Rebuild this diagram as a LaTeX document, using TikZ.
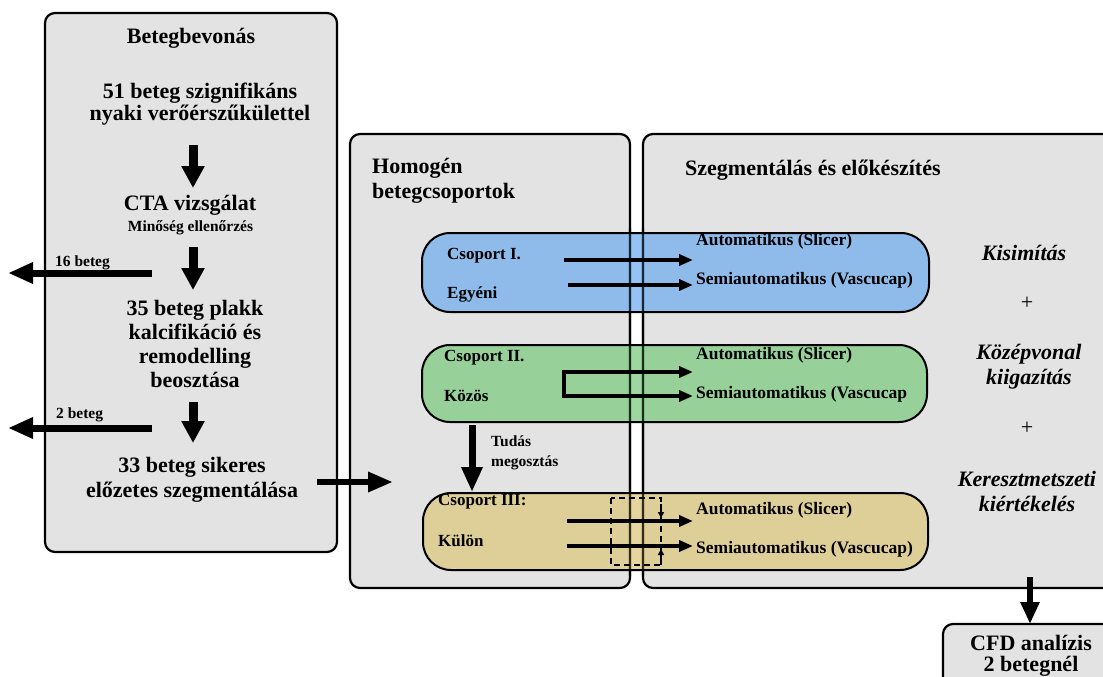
\documentclass[tikz,border=0pt]{standalone}
\usepackage{fontspec}
\setmainfont{Liberation Serif}
\usetikzlibrary{arrows.meta}
\definecolor{panelgray}{RGB}{227,227,227}
\definecolor{bandblue}{RGB}{115,174,239}
\definecolor{bandgreen}{RGB}{127,202,130}
\definecolor{bandtan}{RGB}{221,199,127}
\begin{document}
\begin{tikzpicture}[x=1pt,y=-1pt,
  panel/.style={draw=black, line width=2.2pt, fill=panelgray, rounded corners=10pt, inner sep=0pt, outer sep=0pt},
  band/.style={draw=black, line width=2pt, rounded corners=28pt, fill opacity=0.75, inner sep=0pt, outer sep=0pt},
  bigtxt/.style={font=\bfseries\fontsize{22}{24.5}\selectfont, align=center, inner sep=0pt},
  midtxt/.style={font=\bfseries\fontsize{17}{20}\selectfont, align=left, inner sep=0pt, anchor=west},
  methtxt/.style={font=\bfseries\fontsize{17.5}{20}\selectfont, align=left, inner sep=0pt, anchor=west},
  smalltxt/.style={font=\bfseries\fontsize{15.5}{20}\selectfont, align=left, inner sep=0pt},
  ittxt/.style={font=\bfseries\itshape\fontsize{22}{25}\selectfont, align=center, inner sep=0pt},
  vbig/.style={line width=9pt, -{Triangle[length=22pt,width=22pt]}},
  hbig/.style={line width=7pt, -{Triangle[length=25pt,width=20pt]}},
  bandarr/.style={line width=3.8pt, -{Triangle[length=14pt,width=11pt]}},
  smallarr/.style={line width=1.5pt, -{Triangle[length=6pt,width=6pt]}}
]
\path[use as bounding box, clip] (0,0) rectangle (1103,677);

% panels
\node[panel, minimum width=292pt, minimum height=539pt] (leftp) at (191,282.5) {};
\node[panel, minimum width=280pt, minimum height=454pt] (midp) at (490,361) {};
\node[panel, minimum width=477pt, minimum height=454pt] (rightp) at (881.5,361) {};
\node[panel, minimum width=177pt, minimum height=76pt] (cfdbox) at (1031.5,662) {};

% bands
\node[band, fill=bandblue, minimum width=507pt, minimum height=79pt] (bandI) at (675.5,272.5) {};
\node[band, fill=bandgreen, minimum width=505pt, minimum height=77pt] (bandII) at (674.5,383.5) {};
\node[band, fill=bandtan, minimum width=505pt, minimum height=77pt] (bandIII) at (675.5,531.5) {};

% panel borders seen through the bands
\begin{scope}
\clip (400,228) rectangle (950,575);
\draw[line width=2.2pt, draw opacity=0.7, rounded corners=10pt] (midp.north west) rectangle (midp.south east);
\draw[line width=2.2pt, draw opacity=0.7, rounded corners=10pt] (rightp.north west) rectangle (rightp.south east);
\end{scope}

% left panel texts
\node[bigtxt] (head) at (191,38) {Betegbevonás};
\node[bigtxt, font=\bfseries\fontsize{22}{22}\selectfont] (t51) at (200,104) {51 beteg szignifikáns\\nyaki verőérszűkülettel};
\node[bigtxt] (cta) at (190,205) {CTA vizsgálat};
\node[smalltxt, align=center] (qc) at (190.5,228) {Minőség ellenőrzés};
\node[bigtxt, font=\bfseries\fontsize{22}{24.3}\selectfont] (t35) at (195,344) {35 beteg plakk\\kalcifikáció és\\remodelling\\beosztása};
\node[bigtxt, font=\bfseries\fontsize{22}{25}\selectfont] (t33) at (192,479.5) {33 beteg sikeres\\előzetes szegmentálása};
\node[smalltxt, anchor=west] (l16) at (55,263) {16 beteg};
\node[smalltxt, anchor=west] (l2) at (56,415) {2 beteg};

% left arrows
\coordinate (a1s) at (193,145); \coordinate (a1e) at (193,188);
\coordinate (a2s) at (193,247); \coordinate (a2e) at (193,290);
\coordinate (a3s) at (193,402); \coordinate (a3e) at (193,443);
\draw[vbig] (a1s) -- (a1e);
\draw[vbig] (a2s) -- (a2e);
\draw[vbig] (a3s) -- (a3e);
\coordinate (x16s) at (152,273); \coordinate (x16e) at (8,273);
\coordinate (x2s) at (152,428); \coordinate (x2e) at (8,428);
\draw[hbig] (x16s) -- (x16e);
\draw[hbig] (x2s) -- (x2e);
\coordinate (toMs) at (317,482); \coordinate (toMe) at (393,482);
\draw[line width=6.5pt, -{Triangle[length=25pt,width=19pt]}] (toMs) -- (toMe);

% middle panel
\node[bigtxt, align=left, anchor=west, font=\bfseries\fontsize{22}{25}\selectfont] (hom) at (372,180.5) {Homogén\\betegcsoportok};
\node[midtxt] (cI) at (447,256) {Csoport I.};
\node[midtxt] (egy) at (447,294) {Egyéni};
\node[midtxt] (cII) at (444,358) {Csoport II.};
\node[midtxt] (koz) at (444,396) {Közös};
\node[midtxt] (cIII) at (438,502) {Csoport III:};
\node[midtxt] (kul) at (438,541) {Külön};
\node[smalltxt, anchor=west] (tud) at (491,453) {Tudás\\megosztás};
\coordinate (tds) at (472,425); \coordinate (tde) at (472,492);
\draw[line width=7pt, -{Triangle[length=25pt,width=20pt]}] (tds) -- (tde);

% method texts
\node[methtxt] (autoI) at (696,241) {Automatikus (Slicer)};
\node[methtxt] (semiI) at (696,280) {Semiautomatikus (Vascucap)};
\node[methtxt] (autoII) at (696,355) {Automatikus (Slicer)};
\node[methtxt] (semiII) at (696,394) {Semiautomatikus (Vascucap};
\node[methtxt] (autoIII) at (696,510) {Automatikus (Slicer)};
\node[methtxt] (semiIII) at (696,549) {Semiautomatikus (Vascucap)};

% band arrows
\coordinate (bI1s) at (564,260); \coordinate (bI1e) at (693,260);
\coordinate (bI2s) at (568,285); \coordinate (bI2e) at (693,285);
\draw[bandarr] (bI1s) -- (bI1e);
\draw[bandarr] (bI2s) -- (bI2e);
\coordinate (bII1e) at (693,372); \coordinate (bIIc1) at (564,372);
\coordinate (bIIc2) at (564,396); \coordinate (bII2e) at (693,396);
\draw[line width=3.8pt, {Triangle[length=14pt,width=11pt]}-{Triangle[length=14pt,width=11pt]}, line join=miter] (bII1e) -- (bIIc1) -- (bIIc2) -- (bII2e);
\coordinate (bIII1s) at (567,521); \coordinate (bIII1e) at (693,521);
\coordinate (bIII2s) at (567,546); \coordinate (bIII2e) at (693,546);
\draw[bandarr] (bIII1s) -- (bIII1e);
\draw[bandarr] (bIII2s) -- (bIII2e);

% dashed box with small arrows
\coordinate (dnw) at (611,498); \coordinate (dse) at (661,565);
\draw[line width=2pt, dash pattern=on 6pt off 4pt] (dnw) rectangle (dse);
\coordinate (sa1s) at (661,498); \coordinate (sa1e) at (661,518);
\coordinate (sa2s) at (661,565); \coordinate (sa2e) at (661,549);
\draw[smallarr, dash pattern=on 4pt off 2pt] (sa1s) -- (sa1e);
\draw[smallarr, dash pattern=on 4pt off 2pt] (sa2s) -- (sa2e);

% right panel
\node[bigtxt, anchor=west] (szeg) at (685,170) {Szegmentálás és előkészítés};
\node[ittxt] (kis) at (1024,253) {Kisimítás};
\node[inner sep=0pt, font=\fontsize{22}{25}\selectfont] (plus1) at (1027,303) {+};
\node[ittxt] (koz2) at (1029,366.5) {Középvonal\\kiigazítás};
\node[inner sep=0pt, font=\fontsize{22}{25}\selectfont] (plus2) at (1027,428) {+};
\node[ittxt] (ker) at (1027,491.5) {Keresztmetszeti\\kiértékelés};

% CFD
\coordinate (cfs) at (1030,577);
\draw[line width=6pt, -{Triangle[length=22pt,width=18pt]}] (cfs) -- (cfdbox.north -| cfs);
\node[bigtxt, font=\bfseries\fontsize{22}{21}\selectfont] (cfd) at (1031,655.5) {CFD analízis\\2 betegnél};
\end{tikzpicture}
\end{document}
